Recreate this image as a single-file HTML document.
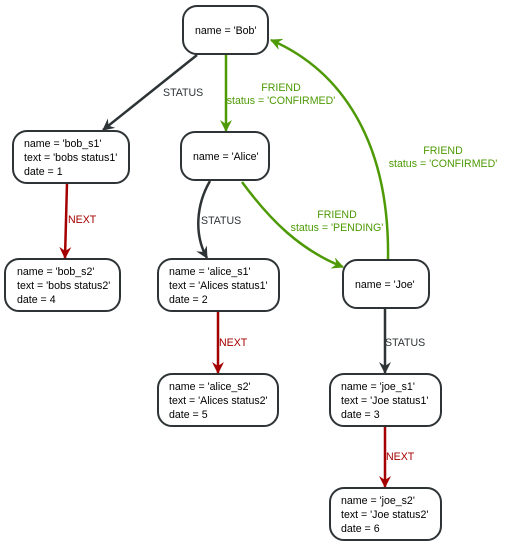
<!DOCTYPE html>
<html><head><style>body{margin:0;background:#fff}svg{display:block}text{font-family:"Liberation Sans",sans-serif;font-size:10.6px}</style></head><body>
<svg width="505" height="547" viewBox="0 0 505 547" xmlns="http://www.w3.org/2000/svg">
<defs>
<marker id="ak" markerWidth="12" markerHeight="12" refX="11" refY="6" orient="auto" markerUnits="userSpaceOnUse"><path d="M0,0 L12,6 L0,12 L4,6 z" fill="#2e3436"/></marker>
<marker id="ag" markerWidth="12" markerHeight="12" refX="11" refY="6" orient="auto" markerUnits="userSpaceOnUse"><path d="M0,0 L12,6 L0,12 L4,6 z" fill="#4e9a06"/></marker>
<marker id="ar" markerWidth="12" markerHeight="12" refX="11" refY="6" orient="auto" markerUnits="userSpaceOnUse"><path d="M0,0 L12,6 L0,12 L4,6 z" fill="#a40000"/></marker>
</defs>
<g fill="none" stroke-width="2.5">
<path d="M197,55 L103,130" stroke="#2e3436" marker-end="url(#ak)"/>
<path d="M226,55 L226,131" stroke="#4e9a06" marker-end="url(#ag)"/>
<path d="M210,181 C196,205 194,235 207,258" stroke="#2e3436" marker-end="url(#ak)"/>
<path d="M242,182 C270,220 300,250 343,267" stroke="#4e9a06" marker-end="url(#ag)"/>
<path d="M388,260 C390,140 340,70 271,40" stroke="#4e9a06" marker-end="url(#ag)"/>
<path d="M67,183 L65,258" stroke="#a40000" marker-end="url(#ar)"/>
<path d="M218,311 L218,373" stroke="#a40000" marker-end="url(#ar)"/>
<path d="M385,308 L385,373" stroke="#2e3436" marker-end="url(#ak)"/>
<path d="M385,426 L385,487" stroke="#a40000" marker-end="url(#ar)"/>
</g>
<g fill="#fff" stroke="#2e3436" stroke-width="2">
<rect x="183" y="6" width="85" height="48" rx="14"/>
<rect x="13" y="131" width="116" height="52" rx="14"/>
<rect x="181" y="132" width="88" height="48" rx="14"/>
<rect x="5" y="259" width="115" height="52" rx="14"/>
<rect x="158" y="259" width="121" height="52" rx="14"/>
<rect x="343" y="260" width="86" height="48" rx="14"/>
<rect x="158" y="374" width="120" height="52" rx="14"/>
<rect x="330" y="374" width="111" height="52" rx="14"/>
<rect x="330" y="488" width="111" height="52" rx="14"/>
</g>
<g fill="#000">
<text x="195" y="34">name = 'Bob'</text>
<text x="24" y="147">name = 'bob_s1'</text><text x="24" y="161">text = 'bobs status1'</text><text x="24" y="175">date = 1</text>
<text x="193" y="160">name = 'Alice'</text>
<text x="17" y="275">name = 'bob_s2'</text><text x="17" y="289">text = 'bobs status2'</text><text x="17" y="303">date = 4</text>
<text x="169" y="275">name = 'alice_s1'</text><text x="169" y="289">text = 'Alices status1'</text><text x="169" y="303">date = 2</text>
<text x="355" y="288">name = 'Joe'</text>
<text x="169" y="390">name = 'alice_s2'</text><text x="169" y="404">text = 'Alices status2'</text><text x="169" y="418">date = 5</text>
<text x="341" y="390">name = 'joe_s1'</text><text x="341" y="404">text = 'Joe status1'</text><text x="341" y="418">date = 3</text>
<text x="341" y="504">name = 'joe_s2'</text><text x="341" y="518">text = 'Joe status2'</text><text x="341" y="532">date = 6</text>
</g>
<g fill="#2e3436">
<text x="163" y="96">STATUS</text>
<text x="201" y="224">STATUS</text>
<text x="385" y="346">STATUS</text>
</g>
<g fill="#4e9a06" text-anchor="middle">
<text x="281" y="91">FRIEND</text><text x="281" y="104">status = 'CONFIRMED'</text>
<text x="337" y="218">FRIEND</text><text x="337" y="231">status = 'PENDING'</text>
<text x="443" y="154">FRIEND</text><text x="443" y="167">status = 'CONFIRMED'</text>
</g>
<g fill="#a40000">
<text x="68" y="223">NEXT</text>
<text x="219" y="346">NEXT</text>
<text x="386" y="460">NEXT</text>
</g>
</svg>
</body></html>
